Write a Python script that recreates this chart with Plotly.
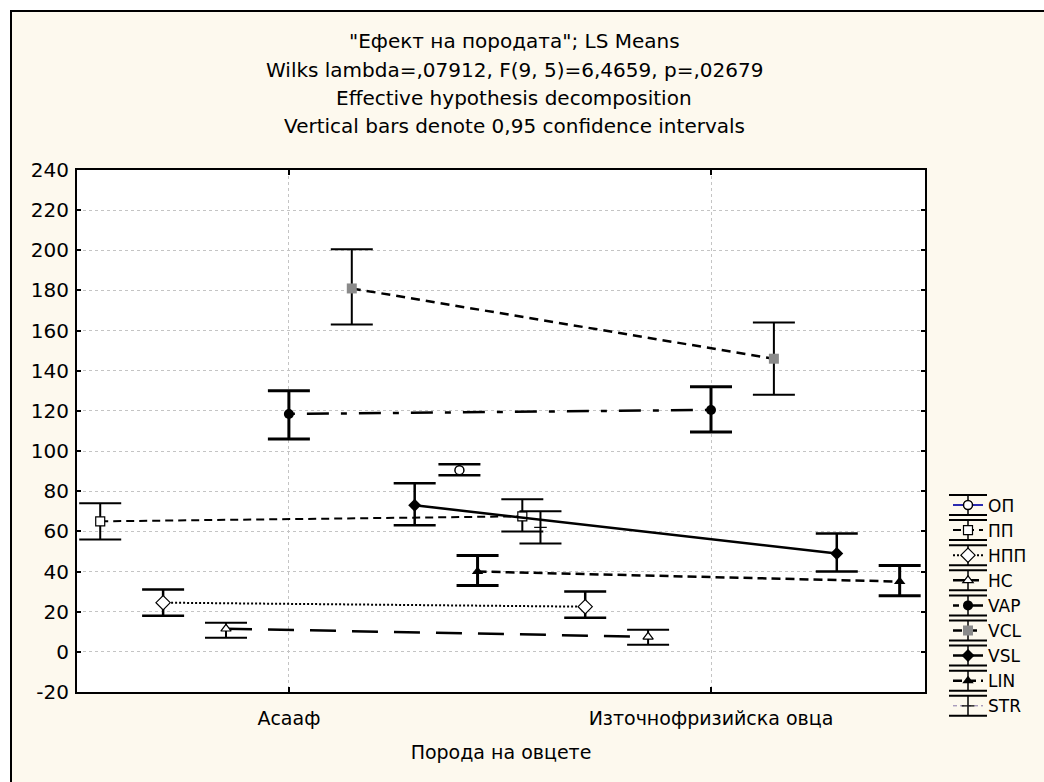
import plotly.graph_objects as go

# ---------------- data ----------------
categories = ["Асааф", "Източнофризийска овца"]
series_names = ["ОП", "ПП", "НПП", "НС", "VAP", "VCL", "VSL", "LIN", "STR"]

# LS means per series: [Асааф, Източнофризийска овца]  (None = outside plot window)
mean_OP = [None, 90.5]
mean_PP = [65, 67.5]
mean_NPP = [24.5, 22.5]
mean_NS = [11.5, 7.5]
mean_VAP = [118.5, 120.5]
mean_VCL = [181, 146]
mean_VSL = [73, 49]
mean_LIN = [40, 35]
mean_STR = [62, None]

# 95% confidence interval lower / upper bounds
low_OP = [None, 88]
high_OP = [None, 93.5]
low_PP = [56, 60]
high_PP = [74, 76]
low_NPP = [18, 17]
high_NPP = [31, 30]
low_NS = [7, 3.5]
high_NS = [14.5, 11]
low_VAP = [106, 109.5]
high_VAP = [130, 132]
low_VCL = [163, 128]
high_VCL = [200.5, 164]
low_VSL = [63, 40]
high_VSL = [84, 59]
low_LIN = [33, 28]
high_LIN = [48, 43]
low_STR = [54, None]
high_STR = [70, None]

y_ticks = list(range(-20, 241, 20))
y_tick_labels = [str(v) for v in y_ticks]

means = [mean_OP, mean_PP, mean_NPP, mean_NS, mean_VAP, mean_VCL, mean_VSL, mean_LIN, mean_STR]
lows = [low_OP, low_PP, low_NPP, low_NS, low_VAP, low_VCL, low_VSL, low_LIN, low_STR]
highs = [high_OP, high_PP, high_NPP, high_NS, high_VAP, high_VCL, high_VSL, high_LIN, high_STR]

# ---------------- styles ----------------
FONT = "DejaVu Sans"
styles = [
    dict(line=dict(color="#2b2bb0", width=2), marker=dict(symbol="circle", size=9, color="white", line=dict(color="black", width=1.5)), eb=2.5),
    dict(line=dict(color="black", width=2, dash="8px,5px"), marker=dict(symbol="square", size=9, color="white", line=dict(color="black", width=1.2)), eb=2),
    dict(line=dict(color="black", width=2, dash="2px,2px"), marker=dict(symbol="diamond", size=11, color="white", line=dict(color="black", width=1.2)), eb=2.5),
    dict(line=dict(color="black", width=2.5, dash="26px,16px"), marker=dict(symbol="triangle-up", size=9, color="white", line=dict(color="black", width=1.2)), eb=2),
    dict(line=dict(color="black", width=2.5, dash="6px,12px,22px,12px"), marker=dict(symbol="circle", size=10, color="black", line=dict(color="black", width=0)), eb=3),
    dict(line=dict(color="black", width=2.5, dash="9px,6px"), marker=dict(symbol="square", size=10, color="#8a8a8a", line=dict(color="#8a8a8a", width=0)), eb=2),
    dict(line=dict(color="black", width=2.5), marker=dict(symbol="diamond", size=10, color="black", line=dict(color="black", width=0)), eb=2.5),
    dict(line=dict(color="black", width=2.5, dash="9px,5px"), marker=dict(symbol="triangle-up", size=10, color="black", line=dict(color="black", width=0)), eb=3),
    dict(line=dict(color="#8878a8", width=1, dash="4px,3px"), marker=dict(symbol="line-ew", size=9, color="black", line=dict(color="black", width=1.2)), eb=2),
]

n = len(series_names)
step = 0.149  # horizontal offset between series

fig = go.Figure()
for i, name in enumerate(series_names):
    off = (i - (n - 1) / 2) * step
    xs = [k + off for k in range(len(categories))]
    m = means[i]
    up = [None if (h is None or v is None) else h - v for h, v in zip(highs[i], m)]
    dn = [None if (l is None or v is None) else v - l for l, v in zip(lows[i], m)]
    st = styles[i]
    fig.add_trace(go.Scatter(
        x=xs, y=m, name=name, mode="lines+markers",
        line=st["line"], marker=st["marker"],
        error_y=dict(type="data", symmetric=False, array=up, arrayminus=dn,
                     color="black", thickness=st["eb"], width=21),
        cliponaxis=True,
    ))

# ---------------- layout ----------------
L, R, T, B = 77, 925, 170, 692
W, H = 1044, 782


def px(x):
    return (x - L) / (R - L)


def py(y):
    return (B - y) / (B - T)


shapes = [
    dict(type="rect", xref="paper", yref="paper", x0=px(-5), x1=px(10), y0=py(H + 5), y1=py(-5),
         fillcolor="white", line=dict(width=0), layer="above"),
    dict(type="rect", xref="paper", yref="paper", x0=px(-5), x1=px(W + 5), y0=py(10), y1=py(-5),
         fillcolor="white", line=dict(width=0), layer="above"),
    dict(type="line", xref="paper", yref="paper", x0=px(11), x1=px(11), y0=py(H + 5), y1=py(10),
         line=dict(color="black", width=2), layer="above"),
    dict(type="line", xref="paper", yref="paper", x0=px(10), x1=px(W + 5), y0=py(11), y1=py(11),
         line=dict(color="black", width=2), layer="above"),
]

# error-bar style decoration behind each legend symbol (as Statistica draws it)
LEG_FONT = 17
LEG_LEFT = 948
LEG_STEP = LEG_FONT * 1.3 + 3     # plotly legend row height
LEG_FIRST = 505                    # centre of first legend row (px)
LEG_TOP = LEG_FIRST - 5 - LEG_STEP / 2
LEG_CX = LEG_LEFT + 20             # legend symbol centre (px)
for i in range(n):
    yc = LEG_FIRST + LEG_STEP * i
    for yy in (yc - 10, yc + 10):
        shapes.append(dict(type="line", xref="paper", yref="paper",
                           x0=px(LEG_CX - 19), x1=px(LEG_CX + 19), y0=py(yy), y1=py(yy),
                           line=dict(color="black", width=2), layer="above"))
    shapes.append(dict(type="line", xref="paper", yref="paper",
                       x0=px(LEG_CX), x1=px(LEG_CX), y0=py(yc - 10), y1=py(yc + 10),
                       line=dict(color="black", width=1.5), layer="below"))

title_lines = [
    '"Ефект на породата"; LS Means',
    "Wilks lambda=,07912, F(9, 5)=6,4659, p=,02679",
    "Effective hypothesis decomposition",
    "Vertical bars denote 0,95 confidence intervals",
]
title_y = [41, 70, 98, 126]
annotations = [
    dict(text=t, xref="paper", yref="paper", x=px(514), y=py(yy), xanchor="center", yanchor="middle",
         showarrow=False, font=dict(family=FONT, size=20, color="black"))
    for t, yy in zip(title_lines, title_y)
]

fig.update_layout(
    width=W, height=H,
    margin=dict(l=L, r=W - R, t=T, b=H - B, pad=0, autoexpand=False),
    paper_bgcolor="#fdf9ee",
    plot_bgcolor="white",
    font=dict(family=FONT, size=19, color="black"),
    showlegend=True,
    legend=dict(x=px(LEG_LEFT), xanchor="left", y=py(LEG_TOP), yanchor="top",
                font=dict(family=FONT, size=LEG_FONT, color="black"),
                bgcolor="rgba(0,0,0,0)", borderwidth=0, tracegroupgap=0, itemwidth=30),
    shapes=shapes,
    annotations=annotations,
    xaxis=dict(
        range=[-0.502, 1.507], tickvals=[0, 1], ticktext=categories,
        showgrid=True, gridcolor="#c4c4c4", griddash="dot", gridwidth=1,
        zeroline=False, showline=True, linecolor="black", linewidth=2, mirror="ticks",
        ticks="inside", ticklen=5, tickwidth=2, tickcolor="black",
        tickfont=dict(family=FONT, size=19), ticklabelstandoff=8,
        title=dict(text="Порода на овцете", font=dict(family=FONT, size=19), standoff=18),
    ),
    yaxis=dict(
        range=[-20, 240], tickvals=y_ticks, ticktext=y_tick_labels,
        showgrid=True, gridcolor="#c4c4c4", griddash="dot", gridwidth=1,
        zeroline=False, showline=True, linecolor="black", linewidth=2, mirror="ticks",
        ticks="inside", ticklen=4, tickwidth=2, tickcolor="black",
        tickfont=dict(family=FONT, size=20), ticklabelstandoff=2,
    ),
)

fig.write_html("out.html")
